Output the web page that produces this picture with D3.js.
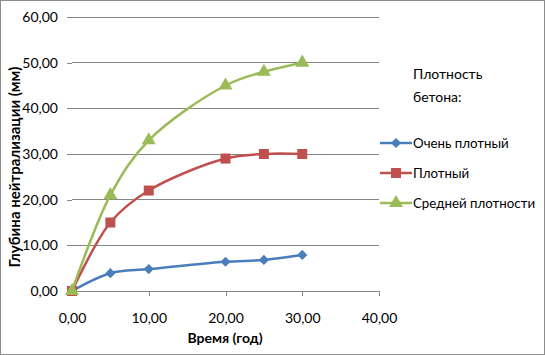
<!DOCTYPE html>
<html><head><meta charset="utf-8">
<script src="https://cdn.jsdelivr.net/npm/d3@7"></script>
<style>body{margin:0;background:#fff}svg{display:block}text{font-family:Lato,"Open Sans",sans-serif}</style>
</head><body><svg width="545" height="355"></svg>
<script>
const years = [0, 5, 10, 20, 25, 30];
const veryDense = [0, 3.9, 4.8, 6.4, 6.8, 7.9];
const dense = [0, 15, 22, 29, 30, 30];
const medium = [0, 21, 33, 45, 48, 50];
const seriesNames = ["Очень плотный", "Плотный", "Средней плотности"];
const colors = ["#4A7EBB", "#C0504D", "#9BBB59"];
const yTicks = [0, 10, 20, 30, 40, 50, 60];
const xTicks = [0, 10, 20, 30, 40];

const svg = d3.select("svg");
svg.append("rect").attr("x",0.5).attr("y",0.5).attr("width",544).attr("height",354)
  .attr("fill","#fff").attr("stroke","#8c8c8c").attr("stroke-width",1);

const x = d3.scaleLinear().domain([0,40]).range([72,379]);
const y = d3.scaleLinear().domain([0,60]).range([291,17]);
const fmt = v => d3.format(".2f")(v).replace(".", ",");

// gridlines
svg.append("g").selectAll("line").data(yTicks.filter(d=>d>0)).join("line")
  .attr("x1",x(0)).attr("x2",x(40)).attr("y1",d=>y(d)).attr("y2",d=>y(d))
  .attr("stroke","#868686").attr("stroke-width",1).attr("shape-rendering","crispEdges");

const yAxis = svg.append("g").attr("transform",`translate(${x(0)},0)`)
  .call(d3.axisLeft(y).tickValues(yTicks).tickFormat(fmt).tickSize(5).tickPadding(9));
yAxis.select(".domain").remove();
const xAxis = svg.append("g").attr("transform",`translate(0,${y(0)})`)
  .call(d3.axisBottom(x).tickValues(xTicks).tickFormat(fmt).tickSize(5).tickPadding(17));
[yAxis,xAxis].forEach(a=>{
  a.selectAll("path,line").attr("stroke","#868686").attr("shape-rendering","crispEdges");
  a.selectAll("text").attr("font-size",14).attr("fill","#000").attr("font-family","Lato, 'Open Sans', sans-serif");
});

svg.append("text").attr("x",225).attr("y",343).attr("text-anchor","middle")
  .attr("font-size",14).attr("font-weight","bold").text("Время (год)");
svg.append("text").attr("transform","translate(20,167) rotate(-90)").attr("text-anchor","middle")
  .attr("font-size",15).attr("font-weight","bold").text("Глубина нейтрализации (мм)");

const data = [veryDense, dense, medium];
const line = d3.line().x(d=>x(d[0])).y(d=>y(d[1])).curve(d3.curveCatmullRom.alpha(0.5));
const diamond = d3.symbol().type(d3.symbolSquare).size(52);
const square = d3.symbol().type(d3.symbolSquare).size(100);
const tri = d3.symbol().type(d3.symbolTriangle).size(85);
const syms = [diamond, square, tri];
const rot = [45, 0, 0];

data.forEach((vals,i)=>{
  const pts = years.map((t,j)=>[t,vals[j]]);
  svg.append("path").attr("d",line(pts)).attr("fill","none").attr("stroke",colors[i]).attr("stroke-width",2.5);
  svg.append("g").selectAll("path").data(pts).join("path")
    .attr("transform",d=>`translate(${x(d[0])},${y(d[1])}) rotate(${rot[i]})`).attr("d",syms[i]()).attr("fill",colors[i]);
});

// legend
svg.append("text").attr("x",413).attr("y",79).attr("font-size",14).text("Плотность");
svg.append("text").attr("x",413).attr("y",102).attr("font-size",14).text("бетона:");
const ly = [143,173,203];
seriesNames.forEach((n,i)=>{
  svg.append("line").attr("x1",380).attr("x2",412).attr("y1",ly[i]).attr("y2",ly[i]).attr("stroke",colors[i]).attr("stroke-width",2.5);
  svg.append("path").attr("transform",`translate(396,${ly[i]}) rotate(${rot[i]})`).attr("d",syms[i]()).attr("fill",colors[i]);
  svg.append("text").attr("x",413).attr("y",ly[i]+5).attr("font-size",13.3).text(n);
});
</script></body></html>
